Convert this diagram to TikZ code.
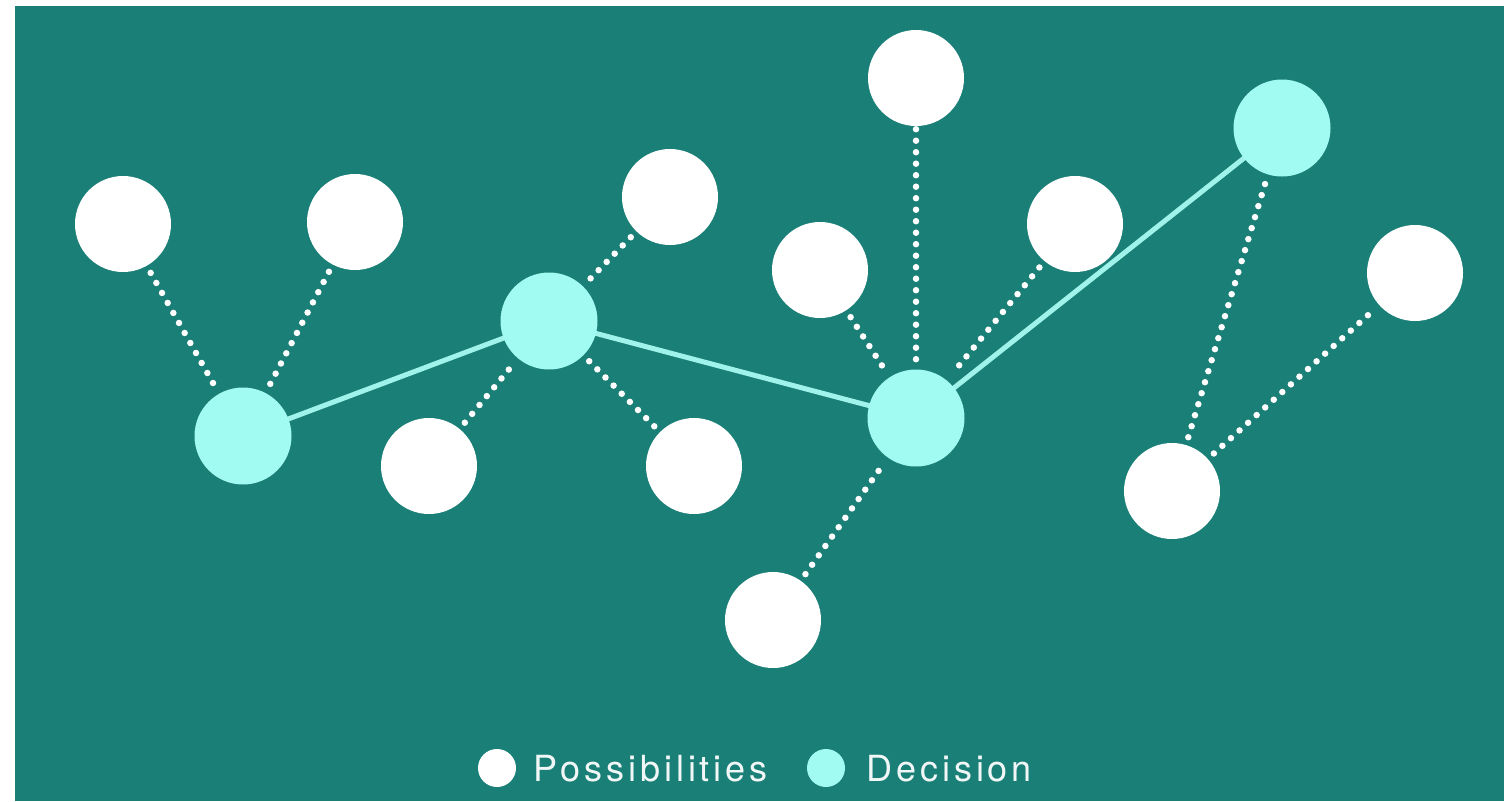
\documentclass[tikz,border=0pt]{standalone}
\usepackage{fontspec}
\setmainfont{TeX Gyre Heros}[LetterSpace=11]
\definecolor{bg}{HTML}{1A7F76}
\definecolor{dec}{HTML}{A2FBF2}
\definecolor{decline}{HTML}{9FF3EA}
\begin{document}
\begin{tikzpicture}[x=1pt,y=-1pt,
  poss/.style={circle,fill=white,minimum size=96pt,inner sep=0pt},
  decn/.style={circle,fill=dec,minimum size=97pt,inner sep=0pt},
  dotline/.style={draw=white,line width=6.5pt,line cap=round,dash pattern=on 0pt off 11.5pt,shorten <=8pt,shorten >=8pt},
  solidline/.style={draw=decline,line width=5pt},
  legtext/.style={anchor=base west,inner sep=0pt,text=white!94!bg,font=\fontsize{36pt}{40pt}\selectfont}
]
\useasboundingbox (0,0) rectangle (1510,801);
\fill[white] (0,0) rectangle (1510,801);
\fill[bg] (15,6) rectangle (1504,801);
% decision positions and solid connectors
\draw[solidline] (243,436) coordinate (cd1) -- (549,321) coordinate (cd2);
\draw[solidline] (cd2) -- (916,418) coordinate (cd3);
\draw[solidline] (cd3) -- (1282,128) coordinate (cd4);
% nodes
\node[poss] (w1) at (123,224) {};
\node[poss] (w2) at (355,222) {};
\node[poss] (w3) at (670,197) {};
\node[poss] (w4) at (916,78) {};
\node[poss] (w5) at (820,270) {};
\node[poss] (w6) at (1075,224) {};
\node[poss] (w7) at (1415,273) {};
\node[poss] (w8) at (429,466) {};
\node[poss] (w9) at (694,466) {};
\node[poss] (w10) at (1172,491) {};
\node[poss] (w11) at (773,620) {};
\node[decn] (d1) at (cd1) {};
\node[decn] (d2) at (cd2) {};
\node[decn] (d3) at (cd3) {};
\node[decn] (d4) at (cd4) {};
\draw[dotline] (w1) -- (d1);
\draw[dotline] (w2) -- (d1);
\draw[dotline] (w3) -- (d2);
\draw[dotline] (w8) -- (d2);
\draw[dotline] (w9) -- (d2);
\draw[dotline,shorten <=3pt] (w4) -- (d3);
\draw[dotline] (w5) -- (d3);
\draw[dotline] (w6) -- (d3);
\draw[dotline] (w11) -- (d3);
\draw[dotline] (w10) -- (d4);
\draw[dotline] (w10) -- (w7);
% legend
\node[circle,fill=white,minimum size=38pt,inner sep=0pt] (lp) at (497,768) {};
\node[legtext] (lpt) at (533,781) {Possibilities};
\node[circle,fill=dec,minimum size=38pt,inner sep=0pt] (ld) at (826,768) {};
\node[legtext] (ldt) at (866,781) {Decision};
\end{tikzpicture}
\end{document}
